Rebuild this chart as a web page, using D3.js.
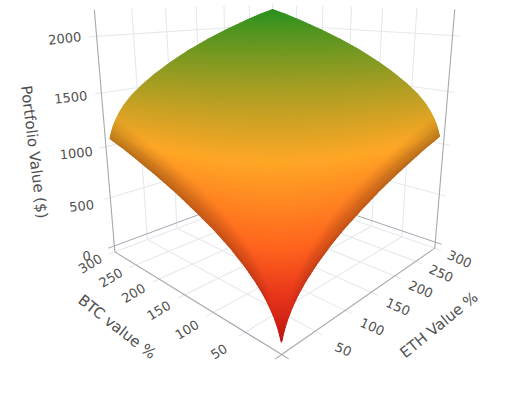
<!DOCTYPE html>
<html><head><meta charset="utf-8">
<script src="https://cdn.jsdelivr.net/npm/d3@7"></script>
<style>html,body{margin:0;padding:0;background:#fff}svg{display:block}text{font-family:"DejaVu Sans",sans-serif;fill:#505050}</style>
</head><body><svg id="c" width="520" height="400"></svg>
<script>
const btcValues=[5,7,10,14,20,28,40,55,75,100,130,165,200,235,265,297];
const ethValues=[5,7,10,14,20,28,40,55,75,100,130,165,200,235,265,297];
const portfolioValues=[
[0,45,100,157,223,293,373,453,541,631,719,812,891,962,1020,1072],
[45,90,145,202,268,338,418,498,587,676,764,857,937,1008,1065,1117],
[100,145,200,257,323,393,473,554,642,731,819,913,992,1063,1120,1173],
[157,202,257,314,380,450,531,611,699,789,877,970,1048,1120,1175,1227],
[223,268,323,380,446,517,597,677,766,855,944,1036,1115,1186,1242,1293],
[293,338,393,450,517,587,667,748,836,926,1015,1106,1184,1256,1310,1363],
[373,418,473,531,597,667,748,829,917,1008,1097,1188,1265,1336,1390,1442],
[453,498,554,611,677,748,829,909,999,1089,1179,1269,1346,1415,1470,1519],
[541,587,642,699,766,836,917,999,1088,1180,1270,1360,1436,1504,1558,1606],
[631,676,731,789,855,926,1008,1089,1180,1272,1363,1452,1528,1596,1650,1699],
[719,764,819,877,944,1015,1097,1179,1270,1363,1455,1546,1623,1692,1748,1797],
[812,857,913,970,1036,1106,1188,1269,1360,1452,1546,1637,1716,1787,1843,1894],
[891,937,992,1048,1115,1184,1265,1346,1436,1528,1623,1716,1796,1868,1926,1978],
[962,1008,1063,1120,1186,1256,1336,1415,1504,1596,1692,1787,1868,1942,2001,2054],
[1020,1065,1120,1175,1242,1310,1390,1470,1558,1650,1748,1843,1926,2001,2061,2115],
[1072,1117,1173,1227,1293,1363,1442,1519,1606,1699,1797,1894,1978,2054,2115,2170]];
const horizontalTicks=[50,100,150,200,250,300];
const zTicks=[0,500,1000,1500,2000];
const colorFractions=[0,.14,.27,.5,1];
const colorStops=["#be1414","#e8371c","#ff641e","#ffa726","#28911f"];

const xS=d3.scaleLinear([0,300],[-1,1]), yS=d3.scaleLinear([0,300],[-1,1]);
const zS=d3.scaleLinear([-64,2227],[-1.0634,1.0097]);
const zFloor=zS.domain()[0], zTop=zS.domain()[1];
const flat=portfolioValues.flat(), zMin=d3.min(flat), zMax=d3.max(flat);
const color=d3.scaleLinear(colorFractions.map(f=>zMin+f*(zMax-zMin)),colorStops).interpolate(d3.interpolateRgb);

const cam={f:540,D:4.498,cx:276,cy:133.8,sinE:.2588,cosE:.9659,sinY:.0253,cosY:.9997};
function view(x,y,z){
  const X=xS(x),Y=yS(y),W=zS(z);
  const s0=(Y-X)/Math.SQRT2,t0=(X+Y)/Math.SQRT2;
  const s=s0*cam.cosY-t0*cam.sinY,t=t0*cam.cosY+s0*cam.sinY;
  const depth=cam.D+t*cam.cosE-W*cam.sinE,up=W*cam.cosE+t*cam.sinE;
  return {px:cam.cx+cam.f*s/depth,py:cam.cy-cam.f*up/depth,depth};
}
const P=(x,y,z)=>{const v=view(x,y,z);return [v.px,v.py];};
const svg=d3.select("#c");
const lineGen=d3.line();
function drawLines(cls,data,stroke,width){
  svg.append("g").attr("class",cls).selectAll("path").data(data).join("path")
    .attr("d",d=>lineGen(d)).attr("fill","none").attr("stroke",stroke).attr("stroke-width",width);
}
const stub=9;
const gridLines=[];
horizontalTicks.forEach(v=>{
  gridLines.push([P(v,-stub,zFloor),P(v,300,zFloor)]);
  gridLines.push([P(-stub,v,zFloor),P(300,v,zFloor)]);
  gridLines.push([P(300,v,zFloor),P(300,v,zTop)]);
  gridLines.push([P(v,300,zFloor),P(v,300,zTop)]);
});
zTicks.filter(z=>z>0).forEach(z=>{
  gridLines.push([P(300,-stub,z),P(300,300,z)]);
  gridLines.push([P(-stub,300,z),P(300,300,z)]);
});
drawLines("grid",gridLines,"#e6e8ec",1.1);
drawLines("zero",[[P(300,-stub,0),P(300,300,0)],[P(-stub,300,0),P(300,300,0)]],"#a3a8b0",1);
drawLines("axes",[
  [P(0,0,zFloor),P(300,0,zFloor)],[P(0,0,zFloor),P(0,300,zFloor)],
  [P(300,0,zFloor),P(300,0,zTop)],[P(0,300,zFloor),P(0,300,zTop)],
  [P(0,-stub,zFloor),P(0,0,zFloor)],[P(-stub,0,zFloor),P(0,0,zFloor)]
],"#a6a9ae",1.1);

const nx=btcValues.length,ny=ethValues.length;
function slopeGap(i,j){
  const i0=Math.max(i-1,0),i1=Math.min(i+1,nx-1),j0=Math.max(j-1,0),j1=Math.min(j+1,ny-1);
  const gx=(zS(portfolioValues[i1][j])-zS(portfolioValues[i0][j]))/(xS(btcValues[i1])-xS(btcValues[i0]));
  const gy=(zS(portfolioValues[i][j1])-zS(portfolioValues[i][j0]))/(yS(ethValues[j1])-yS(ethValues[j0]));
  return Math.abs(gx-gy);
}
const gap=portfolioValues.map((r,i)=>r.map((_,j)=>slopeGap(i,j)));
const shade=d3.scaleLinear([1.3,2.1,3.1],[1,.87,.66]).clamp(true);
const sub=5,cells=[];
const bil=(m,i,j,a,b)=>(1-a)*(1-b)*m[i][j]+a*(1-b)*m[i+1][j]+(1-a)*b*m[i][j+1]+a*b*m[i+1][j+1];
for(let i=0;i<nx-1;i++)for(let j=0;j<ny-1;j++)for(let p=0;p<sub;p++)for(let q=0;q<sub;q++){
  const corner=(a,b)=>{
    const x=btcValues[i]+a*(btcValues[i+1]-btcValues[i]);
    const y=ethValues[j]+b*(ethValues[j+1]-ethValues[j]);
    return view(x,y,bil(portfolioValues,i,j,a,b));
  };
  const a0=p/sub,a1=(p+1)/sub,b0=q/sub,b1=(q+1)/sub;
  const vs=[corner(a0,b0),corner(a1,b0),corner(a1,b1),corner(a0,b1)];
  const am=(a0+a1)/2,bm=(b0+b1)/2;
  const c=d3.rgb(color(bil(portfolioValues,i,j,am,bm)));
  const k=shade(bil(gap,i,j,am,bm));
  const fill=d3.rgb(c.r*k,c.g*k,c.b*k).formatHex();
  cells.push({pts:vs.map(v=>[v.px,v.py]),depth:d3.mean(vs,v=>v.depth),fill});
}
cells.sort((a,b)=>b.depth-a.depth);
svg.append("g").attr("class","surface").selectAll("path").data(cells).join("path")
  .attr("d",d=>lineGen(d.pts)+"Z").attr("fill",d=>d.fill).attr("stroke",d=>d.fill)
  .attr("stroke-width",1.3).attr("stroke-linejoin","round");

function label(cls,data,pos,rot,size,txt){
  svg.append("g").attr("class",cls).selectAll("text").data(data).join("text")
    .attr("text-anchor","middle").attr("dominant-baseline","central").attr("font-size",size)
    .attr("transform",d=>{const p=pos(d);return `translate(${p[0]},${p[1]}) rotate(${rot})`;})
    .text(txt||(d=>d));
}
label("btc-ticks",horizontalTicks,v=>P(v,-35,-90),-31,13);
label("eth-ticks",horizontalTicks,v=>P(-35,v,-90),24,13);
label("z-ticks",zTicks,z=>P(300,-39,z),-6,13);
label("btc-title",["BTC value %"],()=>[117,327],38,15);
label("eth-title",["ETH Value %"],()=>[439,325],-39,15);
label("z-title",["Portfolio Value ($)"],()=>[34,152],83,15);
</script></body></html>
